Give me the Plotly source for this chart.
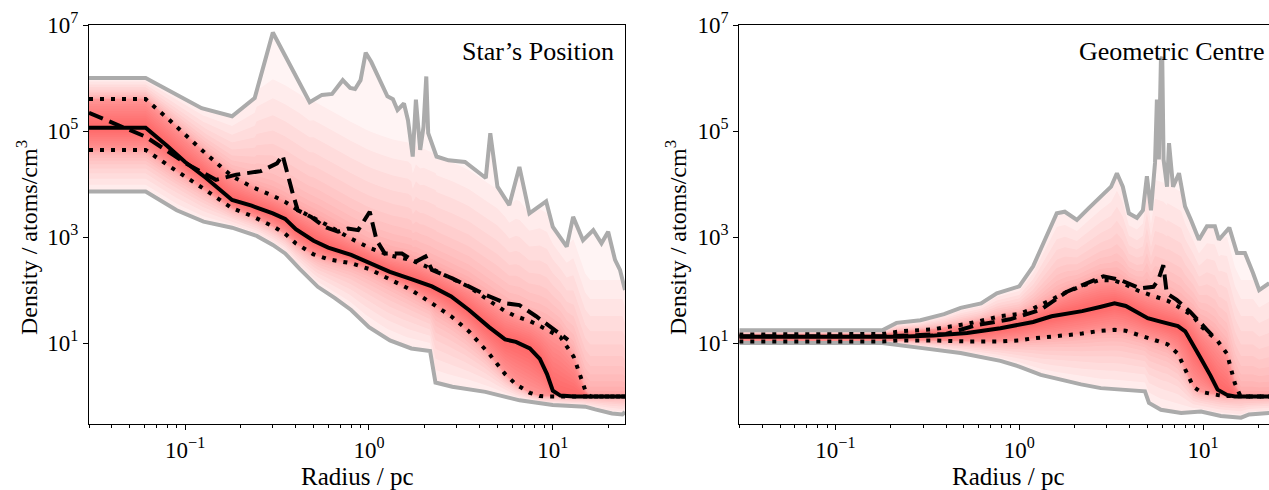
import numpy as np
import plotly.graph_objects as go

# ================= DATA =================
# ---- Left panel: "Star's Position" ----
L_grid = [0.03, 0.061, 0.08, 0.1, 0.13, 0.18, 0.23, 0.3, 0.35, 0.4, 0.5, 0.6, 0.8, 1.0, 1.3, 1.7,
          2.2, 2.8, 3.5, 4.5, 5.5, 6.3, 7.5, 8.5, 9.3, 10, 11, 13, 15, 16, 20, 25]
L_median = [1.15e5, 1.15e5, 5.2e4, 2.6e4, 1.3e4, 5.0e3, 3.9e3, 2.8e3, 2.2e3, 1.4e3, 850, 630, 460, 330,
            220, 160, 117, 76, 42, 20, 11.7, 10.5, 7.9, 5.0, 2.6, 1.26, 1.02, 0.98, 0.98, 0.98, 0.98, 0.98]
L_upper = [4.0e5, 4.0e5, 1.75e5, 8.5e4, 3.7e4, 1.4e4, 8.9e3, 6.0e3, 4.6e3, 3.4e3, 2.3e3, 1.65e3, 930, 630,
           450, 370, 250, 166, 115, 63, 40, 32, 26, 21, 18, 16, 13, 5.5, 1.3, 0.98, 0.98, 0.98]
L_lower = [4.4e4, 4.4e4, 2.3e4, 1.4e4, 7.6e3, 3.5e3, 2.5e3, 1.6e3, 1.15e3, 760, 470, 380, 320, 250,
           158, 100, 56, 32, 16.6, 6.3, 2.6, 1.66, 1.15, 1.0, 0.98, 0.98, 0.98, 0.98, 0.98, 0.98, 0.98, 0.98]
L_mean_r = [0.03, 0.061, 0.1, 0.147, 0.19, 0.258, 0.316, 0.339, 0.385, 0.41, 0.485, 0.574, 0.679, 0.769,
            0.873, 1.01, 1.10, 1.22, 1.51, 1.79, 2.03, 2.20, 2.84, 3.36, 4.32, 5.56, 6.58, 8.11, 10.0, 12.1]
L_mean = [2.2e5, 7.8e4, 2.5e4, 1.2e4, 1.5e4, 1.75e4, 2.45e4, 3.5e4, 6.6e3, 3.2e3, 2.4e3, 1.55e3, 1.26e3,
          1.45e3, 1.35e3, 3.0e3, 870, 490, 490, 340, 430, 240, 166, 123, 81, 56, 52, 32, 19, 11.5]
L_max_r = [0.03, 0.061, 0.123, 0.18, 0.239, 0.30, 0.476, 0.555, 0.63, 0.72, 0.79, 0.84, 0.90, 0.96, 1.03,
           1.14, 1.26, 1.35, 1.43, 1.55, 1.63, 1.73, 1.80, 1.90, 1.98, 2.05, 2.10, 2.33, 2.71, 3.33, 4.0,
           4.32, 4.57, 5.0, 5.8, 6.58, 7.46, 8.5, 9.2, 10.0, 11.9, 12.9, 14.6, 16.6, 18.4, 20.0, 21.8, 23.2, 24.7]
L_max = [1.0e6, 1.0e6, 2.7e5, 1.9e5, 4.2e5, 7.2e6, 3.5e5, 4.8e5, 5.0e5, 9.1e5, 6.5e5, 6.2e5, 9.1e5, 3.0e6,
         2.0e6, 9.1e5, 4.5e5, 4.0e5, 2.5e5, 3.3e5, 1.6e5, 3.3e4, 3.9e5, 4.4e4, 1.2e5, 1.07e6, 9.1e4, 3.3e4,
         2.8e4, 2.6e4, 1.6e4, 1.3e4, 9.1e4, 8.9e3, 4.0e3, 2.1e4, 2.8e3, 4.0e3, 4.7e3, 1.55e3, 660, 2.4e3,
         870, 1.35e3, 760, 1.26e3, 370, 240, 100]
L_min_r = [0.03, 0.061, 0.09, 0.126, 0.18, 0.245, 0.3, 0.35, 0.42, 0.527, 0.65, 0.80, 1.0, 1.3, 1.7, 2.15,
           2.3, 2.84, 4.3, 6.6, 10, 15, 17, 21, 23.9, 24.7]
L_min = [7.2e3, 7.2e3, 3.2e3, 1.95e3, 1.5e3, 1.05e3, 710, 490, 250, 115, 71, 42, 20, 11.2, 7.9, 7.1,
         1.8, 1.5, 1.2, 0.83, 0.68, 0.63, 0.56, 0.47, 0.45, 0.5]

# ---- Right panel: "Geometric Centre" ----
R_grid = [0.03, 0.1, 0.18, 0.225, 0.34, 0.52, 0.79, 1.0, 1.19, 1.5, 1.82, 2.2, 2.75, 3.3, 3.8, 4.5, 5.0,
          5.8, 6.4, 7.3, 8.0, 8.85, 9.7, 11.0, 12.0, 13.5, 14.9, 16, 18, 22.9]
R_median = [13.2, 13.2, 13.2, 13.2, 13.8, 15.5, 19, 22, 25, 32, 36, 40, 48, 56, 50, 37, 29.5, 25.7, 23.4,
            20.9, 16.6, 9.3, 5.2, 2.4, 1.32, 1.05, 0.98, 0.98, 0.98, 0.98]
R_upper = [14.5, 14.5, 14.8, 16.6, 18.2, 23, 32, 35.5, 45, 66, 93, 120, 155, 151, 126, 95, 85, 71, 63, 49,
           40, 32, 21, 14.8, 11, 6.3, 1.74, 0.98, 0.98, 0.98]
R_lower = [10.7, 10.7, 10.7, 11.2, 11.2, 10.7, 10.7, 11.2, 12.3, 13.2, 14.1, 15.1, 17, 17.8, 17, 14.1,
           12.6, 10.7, 9.5, 6.3, 3.2, 1.5, 1.2, 1.1, 1.05, 1.0, 0.98, 0.98, 0.98, 0.98]
R_mean_r = [0.03, 0.2, 0.4, 0.59, 0.89, 1.30, 1.82, 2.33, 2.87, 3.54, 4.55, 5.37, 5.71, 6.08, 6.35, 7.19,
            8.5, 10.5, 11.6]
R_mean = [13.5, 13.5, 14.8, 22, 28, 42, 93, 135, 182, 155, 107, 115, 155, 295, 87, 65, 39, 17.8, 12.3]
R_max_r = [0.03, 0.18, 0.215, 0.29, 0.39, 0.48, 0.62, 0.755, 1.0, 1.19, 1.38, 1.6, 1.77, 2.06, 2.39, 2.78,
           3.16, 3.4, 3.66, 3.95, 4.37, 4.71, 4.95, 5.21, 5.48, 5.61, 5.75, 5.9, 6.0, 6.1, 6.37, 6.53, 6.87,
           7.4, 7.98, 8.6, 9.5, 10.5, 11.6, 12.2, 13.9, 15.3, 16.9, 18.7, 20.2, 22.9]
R_max = [17.4, 17.4, 24, 27, 35, 46, 56, 87, 117, 280, 890, 2.8e3, 3.0e3, 2.1e3, 3.5e3, 5.9e3, 8.9e3,
         1.6e4, 8.9e3, 2.8e3, 2.3e3, 3.2e3, 1.4e4, 3.2e3, 2.5e4, 3.9e5, 2.9e4, 2.2e6, 2.5e6, 2.9e4, 8.9e3,
         5.9e4, 8.9e3, 1.6e4, 3.8e3, 2.1e3, 890, 1.6e3, 1.6e3, 890, 1.5e3, 500, 500, 210, 100, 135]
R_min_r = [0.03, 0.18, 0.29, 0.48, 0.79, 1.0, 1.31, 1.69, 2.17, 2.78, 3.57, 4.83, 5.08, 5.9, 7.6, 9.75,
           12.5, 16.1, 17.8, 22.9]
R_min = [10, 10, 8.1, 6.5, 4.6, 3.6, 2.5, 2.0, 1.66, 1.41, 1.32, 1.23, 0.74, 0.55, 0.48, 0.51, 0.42,
         0.39, 0.45, 0.48]

X_TICKS = [0.1, 1, 10]
X_TICKTEXT = ["10<sup>\u22121</sup>", "10<sup>0</sup>", "10<sup>1</sup>"]
Y_TICKS = [10, 1e3, 1e5, 1e7]
Y_TICKTEXT = ["10<sup>1</sup>", "10<sup>3</sup>", "10<sup>5</sup>", "10<sup>7</sup>"]
PANEL_TITLES = ["Star\u2019s Position", "Geometric Centre"]
X_TITLE = "Radius / pc"
Y_TITLE = "Density / atoms/cm<sup>3</sup>"

# ================= STYLE / LAYOUT =================
W, H = 1269, 490
FONT = "Liberation Serif"
PX_TOP, PX_BOT = 25.0, 424.3
PANELS = [dict(x0=89.0, x1=625.0, xmax=24.7), dict(x0=739.3, x1=1269.0, xmax=22.85)]
XMIN = 0.03
YMIN, YMAX = 0.293, 1e7

fig = go.Figure()


def shading_layers(grid, med, up, lo, mx_r, mx, mn_r, mn, n_in=12, n_out=14, p=2.4, reach=2.2):
    """Build the fan of translucent bands from the read curves (display only)."""
    lx_src = np.log10(grid)
    xs = np.unique(np.concatenate([grid, mx_r, mn_r]))
    lx = np.log10(xs)
    L = np.interp(lx, lx_src, np.log10(med))
    U = np.maximum(np.interp(lx, lx_src, np.log10(up)), L)
    D = np.minimum(np.interp(lx, lx_src, np.log10(lo)), L)
    MX = np.maximum(np.interp(lx, np.log10(mx_r), np.log10(mx)), U)
    MN = np.minimum(np.interp(lx, np.log10(mn_r), np.log10(mn)), D)
    MX = np.minimum(MX, U + reach)
    MN = np.maximum(MN, D - reach)
    bands = []
    for j in range(n_out, 0, -1):
        f = (j / n_out) ** p
        bands.append((U + f * (MX - U), D - f * (D - MN)))
    for i in range(n_in, 0, -1):
        s = i / n_in
        bands.append((L + s * (U - L), L - s * (L - D)))
    return xs, bands


panel_data = [
    (L_grid, L_median, L_upper, L_lower, L_mean_r, L_mean, L_max_r, L_max, L_min_r, L_min),
    (R_grid, R_median, R_upper, R_lower, R_mean_r, R_mean, R_max_r, R_max, R_min_r, R_min),
]

for k, (grid, med, up, lo, mean_r, mean, mx_r, mx, mn_r, mn) in enumerate(panel_data):
    xa = "x" if k == 0 else "x2"
    ya = "y" if k == 0 else "y2"
    grid = np.array(grid, float)
    mx_r = np.array(mx_r, float)
    mn_r = np.array(mn_r, float)
    # base very light fill between min and max
    fig.add_trace(go.Scatter(
        x=np.concatenate([mx_r, mn_r[::-1]]), y=np.concatenate([mx, np.array(mn)[::-1]]),
        fill="toself", fillcolor="rgba(250,30,30,0.05)", line=dict(width=0),
        mode="lines", hoverinfo="skip", xaxis=xa, yaxis=ya))
    xs, bands = shading_layers(grid, med, up, lo, mx_r, mx, mn_r, mn)
    for top, bot in bands:
        fig.add_trace(go.Scatter(
            x=np.concatenate([xs, xs[::-1]]), y=10 ** np.concatenate([top, bot[::-1]]),
            fill="toself", fillcolor="rgba(250,30,30,0.035)", line=dict(width=0),
            mode="lines", hoverinfo="skip", xaxis=xa, yaxis=ya))
    gray = dict(color="#ababab", width=4)
    fig.add_trace(go.Scatter(x=mx_r, y=mx, mode="lines", line=gray, xaxis=xa, yaxis=ya))
    fig.add_trace(go.Scatter(x=mn_r, y=mn, mode="lines", line=gray, xaxis=xa, yaxis=ya))
    fig.add_trace(go.Scatter(x=grid, y=up, mode="lines",
                             line=dict(color="black", width=4, dash="4px,7px"), xaxis=xa, yaxis=ya))
    fig.add_trace(go.Scatter(x=grid, y=lo, mode="lines",
                             line=dict(color="black", width=4, dash="4px,7px"), xaxis=xa, yaxis=ya))
    fig.add_trace(go.Scatter(x=mean_r, y=mean, mode="lines",
                             line=dict(color="black", width=4, dash="15px,7px"), xaxis=xa, yaxis=ya))
    fig.add_trace(go.Scatter(x=grid, y=med, mode="lines",
                             line=dict(color="black", width=4), xaxis=xa, yaxis=ya))

minor_x = [v * d for d in (0.01, 0.1, 1, 10) for v in range(2, 10) if XMIN <= v * d <= 25]
tickfont = dict(family=FONT, size=23, color="black")

for k, pan in enumerate(PANELS):
    sfx = "" if k == 0 else "2"
    fig.layout["xaxis" + sfx] = dict(
        type="log", range=[np.log10(XMIN), np.log10(pan["xmax"])],
        domain=[pan["x0"] / W, pan["x1"] / W], anchor="y" + sfx, automargin=False,
        showline=True, linecolor="black", linewidth=1.1, mirror=True,
        ticks="outside", ticklen=5, tickwidth=1.1, tickcolor="black",
        tickvals=X_TICKS, ticktext=X_TICKTEXT, tickfont=tickfont,
        showgrid=False, zeroline=False,
        minor=dict(tickvals=minor_x, ticks="outside", ticklen=3, tickwidth=0.9,
                   tickcolor="black", showgrid=False))
    fig.layout["yaxis" + sfx] = dict(
        type="log", range=[np.log10(YMIN), np.log10(YMAX)],
        domain=[1 - PX_BOT / H, 1 - PX_TOP / H], anchor="x" + sfx, automargin=False,
        showline=True, linecolor="black", linewidth=1.1, mirror=(k == 0),
        ticks="outside", ticklen=5, tickwidth=1.1, tickcolor="black",
        tickvals=Y_TICKS, ticktext=Y_TICKTEXT, tickfont=tickfont,
        showgrid=False, zeroline=False)

annos = []
title_right = [616, 1267]
ylab_x = [27, 676]
xlab_x = [357, 1008]
for k in range(2):
    annos.append(dict(text=PANEL_TITLES[k], x=title_right[k] / W, y=1 - 51 / H, xref="paper", yref="paper",
                      xanchor="right", yanchor="middle", showarrow=False,
                      font=dict(family=FONT, size=26, color="black")))
    annos.append(dict(text=Y_TITLE, x=ylab_x[k] / W, y=1 - 238 / H, xref="paper", yref="paper",
                      xanchor="center", yanchor="middle", textangle=-90, showarrow=False,
                      font=dict(family=FONT, size=24, color="black")))
    annos.append(dict(text=X_TITLE, x=xlab_x[k] / W, y=1 - 476 / H, xref="paper", yref="paper",
                      xanchor="center", yanchor="middle", showarrow=False,
                      font=dict(family=FONT, size=25, color="black")))

fig.update_layout(width=W, height=H,
                  margin=dict(l=0, r=0, t=0, b=0, pad=0, autoexpand=False),
                  paper_bgcolor="white", plot_bgcolor="white", showlegend=False,
                  annotations=annos)

fig.write_html("out.html", config={"displayModeBar": False},
               post_script="document.body.style.margin='0';")
